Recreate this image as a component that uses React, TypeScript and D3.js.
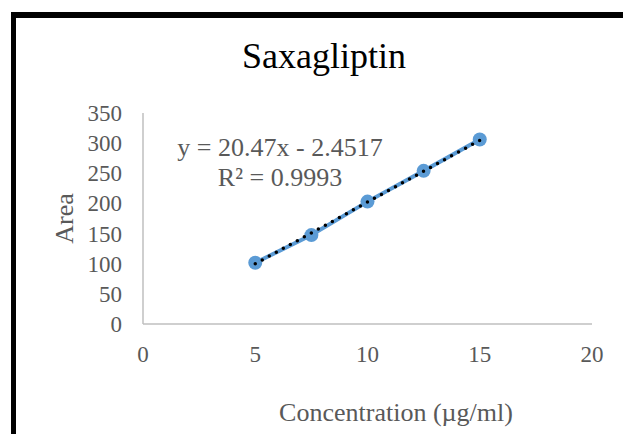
import { useRef, useEffect } from 'react';
import * as d3 from 'd3';

const concentration = [5, 7.5, 10, 12.5, 15];
const area = [101.5, 147.5, 203, 254, 306];
const xTicks = [0, 5, 10, 15, 20];
const yTicks = [0, 50, 100, 150, 200, 250, 300, 350];
const slope = 20.47;
const intercept = -2.4517;
const equationLines = ['y = 20.47x - 2.4517', 'R² = 0.9993'];

const W = 623;
const H = 434;
const FONT = '"Liberation Serif", "Times New Roman", serif';

export default function App() {
  const svgRef = useRef<SVGSVGElement | null>(null);

  useEffect(() => {
    const svg = d3.select(svgRef.current);
    svg.selectAll('*').remove();

    svg.append('rect').attr('width', W).attr('height', H).attr('fill', '#fff');

    // frame: only top and left edges are visible
    svg.append('rect').attr('x', 11).attr('y', 12).attr('width', W - 11).attr('height', 6).attr('fill', '#000');
    svg.append('rect').attr('x', 11).attr('y', 12).attr('width', 5).attr('height', H - 12).attr('fill', '#000');

    const x = d3.scaleLinear().domain([0, 20]).range([143, 592]);
    const y = d3.scaleLinear().domain([0, 350]).range([324, 113]);

    // title
    svg.append('text')
      .attr('x', 324)
      .attr('y', 68)
      .attr('text-anchor', 'middle')
      .style('font-family', FONT)
      .style('font-size', '36px')
      .attr('fill', '#000')
      .text('Saxagliptin');

    // axes lines
    svg.append('line')
      .attr('x1', x(0)).attr('x2', x(20))
      .attr('y1', y(0)).attr('y2', y(0))
      .attr('stroke', '#bfbfbf').attr('stroke-width', 1.5);
    svg.append('line')
      .attr('x1', x(0)).attr('x2', x(0))
      .attr('y1', y(0)).attr('y2', y(350))
      .attr('stroke', '#bfbfbf').attr('stroke-width', 1.5);

    // tick labels
    svg.append('g').selectAll('text')
      .data(xTicks)
      .join('text')
      .attr('x', (d) => x(d))
      .attr('y', 362)
      .attr('text-anchor', 'middle')
      .style('font-family', FONT)
      .style('font-size', '23px')
      .attr('fill', '#595959')
      .text((d) => d);

    svg.append('g').selectAll('text')
      .data(yTicks)
      .join('text')
      .attr('x', 122)
      .attr('y', (d) => y(d))
      .attr('dy', '.35em')
      .attr('text-anchor', 'end')
      .style('font-family', FONT)
      .style('font-size', '23px')
      .attr('fill', '#595959')
      .text((d) => d);

    // axis titles
    svg.append('text')
      .attr('x', 396)
      .attr('y', 421)
      .attr('text-anchor', 'middle')
      .style('font-family', FONT)
      .style('font-size', '26px')
      .attr('fill', '#595959')
      .text('Concentration (µg/ml)');

    svg.append('text')
      .attr('transform', `translate(73,${(y(0) + y(350)) / 2}) rotate(-90)`)
      .attr('text-anchor', 'middle')
      .style('font-family', FONT)
      .style('font-size', '26px')
      .attr('fill', '#595959')
      .text('Area');

    // series line + markers
    const pts = concentration.map((c, i) => [c, area[i]] as [number, number]);
    const line = d3.line<[number, number]>().x((d) => x(d[0])).y((d) => y(d[1]));
    svg.append('path')
      .attr('d', line(pts))
      .attr('fill', 'none')
      .attr('stroke', '#5b9bd5')
      .attr('stroke-width', 4);
    svg.append('g').selectAll('circle')
      .data(pts)
      .join('circle')
      .attr('cx', (d) => x(d[0]))
      .attr('cy', (d) => y(d[1]))
      .attr('r', 7)
      .attr('fill', '#5b9bd5');

    // linear trendline (dotted)
    const x0 = d3.min(concentration) || 0;
    const x1 = d3.max(concentration) || 0;
    svg.append('line')
      .attr('x1', x(x0)).attr('y1', y(slope * x0 + intercept))
      .attr('x2', x(x1)).attr('y2', y(slope * x1 + intercept))
      .attr('stroke', '#000')
      .attr('stroke-width', 3.5)
      .attr('stroke-linecap', 'round')
      .attr('stroke-dasharray', '0,8');

    // equation label
    svg.append('g').selectAll('text')
      .data(equationLines)
      .join('text')
      .attr('x', 280)
      .attr('y', (d, i) => 156 + i * 30)
      .attr('text-anchor', 'middle')
      .style('font-family', FONT)
      .style('font-size', '26px')
      .attr('fill', '#595959')
      .text((d) => d);
  }, []);

  return (
    <svg
      ref={svgRef}
      width={W}
      height={H}
      style={{ position: 'absolute', left: 0, top: 0, display: 'block' }}
    ></svg>
  );
}
